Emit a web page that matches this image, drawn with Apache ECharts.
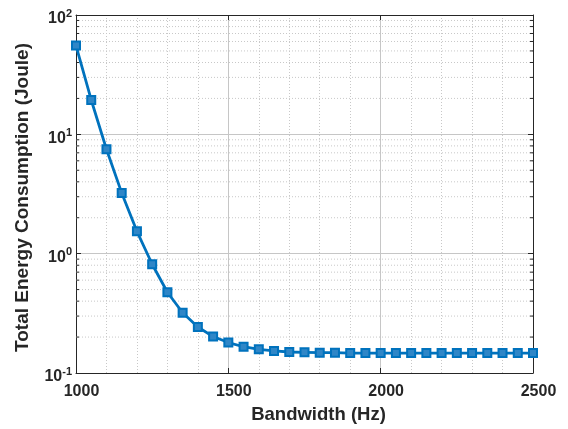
<!DOCTYPE html>
<html>
<head>
<meta charset="utf-8">
<title>Total Energy Consumption vs Bandwidth</title>
<script src="https://cdn.jsdelivr.net/npm/echarts@6/dist/echarts.min.js"></script>
<style>
  html, body { margin: 0; padding: 0; background: #ffffff; }
  #chart { width: 568px; height: 429px; }
</style>
</head>
<body>
<div id="chart"></div>
<script>
// Bandwidth sweep (Hz)
const bandwidth = [
  1000, 1050, 1100, 1150, 1200, 1250, 1300, 1350, 1400, 1450, 1500,
  1550, 1600, 1650, 1700, 1750, 1800, 1850, 1900, 1950, 2000,
  2050, 2100, 2150, 2200, 2250, 2300, 2350, 2400, 2450, 2500
];

// Total energy consumption (Joule) at each bandwidth
const energy = [
  55.5, 19.4, 7.5, 3.23, 1.54, 0.815, 0.475, 0.32, 0.243, 0.202, 0.18,
  0.166, 0.158, 0.153, 0.150, 0.149, 0.148, 0.148, 0.147, 0.147, 0.147,
  0.147, 0.147, 0.147, 0.147, 0.147, 0.147, 0.147, 0.147, 0.147, 0.147
];

// Axis ranges and ticks
const xRange = [1000, 2500];
const xTickStep = 500;
const yRange = [0.1, 100];
const yDecades = [0.1, 1, 10];
const yMinorMultipliers = [2, 3, 4, 5, 6, 7, 8, 9];

// Minor log gridlines (2..9 within each decade)
const yMinorLevels = [];
yDecades.forEach(d => yMinorMultipliers.forEach(m => yMinorLevels.push([xRange[0], m * d])));

const ink = '#262626';
const font = 'Liberation Sans, Arial, Helvetica, sans-serif';
const blue = '#0072BD';

const chart = echarts.init(document.getElementById('chart'), null, { renderer: 'canvas' });

chart.setOption({
  backgroundColor: '#ffffff',
  animation: false,
  grid: { left: 76, right: 35, top: 15, bottom: 55, containLabel: false },
  xAxis: [
    {
      type: 'value',
      min: xRange[0],
      max: xRange[1],
      interval: xTickStep,
      name: 'Bandwidth (Hz)',
      nameLocation: 'middle',
      nameGap: 32,
      nameTextStyle: {
        color: ink, fontFamily: font, fontWeight: 'bold', fontSize: 18.5,
        padding: [0, 0, 0, 28]
      },
      axisLine: { show: true, lineStyle: { color: ink, width: 1 } },
      axisTick: { show: true, inside: true, length: 5, lineStyle: { color: ink } },
      axisLabel: {
        color: ink, fontFamily: font, fontWeight: 'bold', fontSize: 16, margin: 11,
        padding: [0, 0, 0, 11],
        formatter: v => String(v)
      },
      splitLine: { show: true, lineStyle: { color: '#c6c6c6', width: 1 } },
      minorTick: { show: false, splitNumber: 5 },
      minorSplitLine: { show: true, lineStyle: { color: '#c8c8c8', type: [1, 2], width: 1 } }
    },
    {
      type: 'value',
      position: 'top',
      min: xRange[0],
      max: xRange[1],
      interval: xTickStep,
      axisLine: { show: true, lineStyle: { color: ink, width: 1 } },
      axisTick: { show: true, inside: true, length: 5, lineStyle: { color: ink } },
      axisLabel: { show: false },
      splitLine: { show: false }
    }
  ],
  yAxis: [
    {
      type: 'log',
      logBase: 10,
      min: yRange[0],
      max: yRange[1],
      name: 'Total Energy Consumption (Joule)',
      nameLocation: 'middle',
      nameGap: 44,
      nameTextStyle: {
        color: ink, fontFamily: font, fontWeight: 'bold', fontSize: 19,
        padding: [0, 7, 0, 0]
      },
      axisLine: { show: true, lineStyle: { color: ink, width: 1 } },
      axisTick: { show: true, inside: true, length: 5, lineStyle: { color: ink } },
      axisLabel: {
        margin: 4,
        formatter: function (v) {
          const e = Math.round(Math.log10(v));
          return '{b|10}{sup|' + e + '}';
        },
        rich: {
          // base sits low in a tall line, exponent raised near the tick
          b: { color: ink, fontFamily: font, fontWeight: 'bold', fontSize: 16, lineHeight: 24, verticalAlign: 'bottom' },
          sup: { color: ink, fontFamily: font, fontWeight: 'bold', fontSize: 11, padding: [5, 0, 0, 0], verticalAlign: 'top' }
        }
      },
      splitLine: { show: true, lineStyle: { color: '#c6c6c6', width: 1 } }
    },
    {
      type: 'log',
      logBase: 10,
      position: 'right',
      min: yRange[0],
      max: yRange[1],
      axisLine: { show: true, lineStyle: { color: ink, width: 1 } },
      axisTick: { show: true, inside: true, length: 5, lineStyle: { color: ink } },
      axisLabel: { show: false },
      splitLine: { show: false }
    }
  ],
  series: [
    {
      // dotted minor gridlines and inward minor ticks on the log axis
      type: 'custom',
      silent: true,
      z: 1,
      xAxisIndex: 0,
      yAxisIndex: 0,
      data: yMinorLevels,
      renderItem: function (params, api) {
        const v = api.value(1);
        const a = api.coord([xRange[0], v]);
        const b = api.coord([xRange[1], v]);
        return {
          type: 'group',
          children: [
            {
              type: 'line',
              shape: { x1: a[0], y1: a[1], x2: b[0], y2: b[1] },
              style: { stroke: '#c8c8c8', lineWidth: 1, lineDash: [1, 2] }
            },
            {
              type: 'line',
              shape: { x1: a[0], y1: a[1], x2: a[0] + 3, y2: a[1] },
              style: { stroke: ink, lineWidth: 1 }
            },
            {
              type: 'line',
              shape: { x1: b[0] - 3, y1: b[1], x2: b[0], y2: b[1] },
              style: { stroke: ink, lineWidth: 1 }
            }
          ]
        };
      }
    },
    {
      name: 'Total Energy Consumption',
      type: 'line',
      xAxisIndex: 0,
      yAxisIndex: 0,
      z: 5,
      data: bandwidth.map((b, i) => [b, energy[i]]),
      symbol: 'rect',
      symbolSize: 8,
      showSymbol: true,
      lineStyle: { color: blue, width: 2.8 },
      itemStyle: { color: '#2f86c7', borderColor: blue, borderWidth: 2 }
    }
  ]
});
</script>
</body>
</html>
